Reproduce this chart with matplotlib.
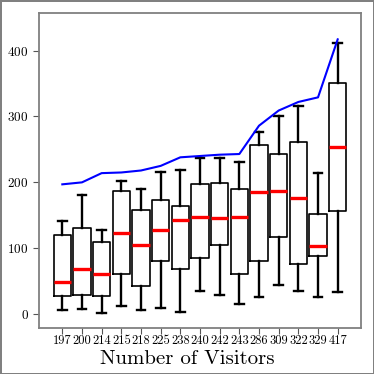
import matplotlib
matplotlib.use('Agg')
import matplotlib.pyplot as plt

plt.rcParams['font.family'] = 'serif'
plt.rcParams['font.serif'] = ['cmr10', 'DejaVu Serif']
plt.rcParams['axes.formatter.use_mathtext'] = True

visitors = [197, 200, 214, 215, 218, 225, 238, 240, 242, 243, 286, 309, 322, 329, 417]
whislo = [6.6, 8.1, 1.5, 12.1, 5.6, 10.1, 3.5, 34.8, 29.8, 15.2, 26.8, 44.4, 35.9, 26.3, 34.3]
q1 = [28.3, 29.3, 27.3, 60.6, 42.4, 80.8, 69.2, 85.9, 104.5, 61.6, 81.3, 116.7, 76.8, 87.9, 156.1]
med = [49.5, 68.7, 60.6, 122.7, 104.5, 128.3, 142.9, 148.0, 146.5, 148.0, 185.4, 186.9, 176.3, 103.5, 253.5]
q3 = [120.7, 130.8, 109.6, 186.4, 158.6, 173.7, 164.6, 198.0, 199.5, 190.4, 256.1, 242.9, 260.6, 152.0, 350.5]
whishi = [141.4, 180.8, 128.3, 202.5, 189.9, 215.2, 218.2, 237.4, 237.4, 230.8, 276.8, 300.0, 316.2, 213.6, 412.1]

stats = []
for i in range(len(visitors)):
    stats.append({'whislo': whislo[i], 'q1': q1[i], 'med': med[i],
                  'q3': q3[i], 'whishi': whishi[i], 'fliers': []})

fig = plt.figure(figsize=(3.74, 3.74), dpi=100)
fig.patch.set_edgecolor('#808080')
fig.patch.set_linewidth(2)
ax = fig.add_axes([39 / 374, 1 - 328 / 374, 322 / 374, 315 / 374])

pos = list(range(1, len(visitors) + 1))
ax.bxp(stats, positions=pos, widths=0.88, showfliers=False,
       boxprops=dict(color='black', linewidth=1.2),
       whiskerprops=dict(color='black', linewidth=1.7),
       capprops=dict(color='black', linewidth=1.7),
       medianprops=dict(color='red', linewidth=2.4))
ax.plot(pos, visitors, color='blue', linewidth=1.5)

ax.set_xlim(-0.185, 16.185)
ax.set_ylim(-21, 457)
ax.set_xticks(pos)
ax.set_xticklabels([str(v) for v in visitors], fontsize=9)
ax.set_yticks([0, 100, 200, 300, 400])
ax.tick_params(axis='y', labelsize=9.5, color='#555555', length=4)
ax.tick_params(axis='x', color='#555555', length=4, pad=1)
ax.tick_params(top=False, right=False)
for s in ax.spines.values():
    s.set_color('#808080')
    s.set_linewidth(1.3)
ax.set_xlabel('Number of Visitors', fontsize=15)
ax.xaxis.set_label_coords(0.46, -0.07)

fig.savefig('out.png', dpi=100)
